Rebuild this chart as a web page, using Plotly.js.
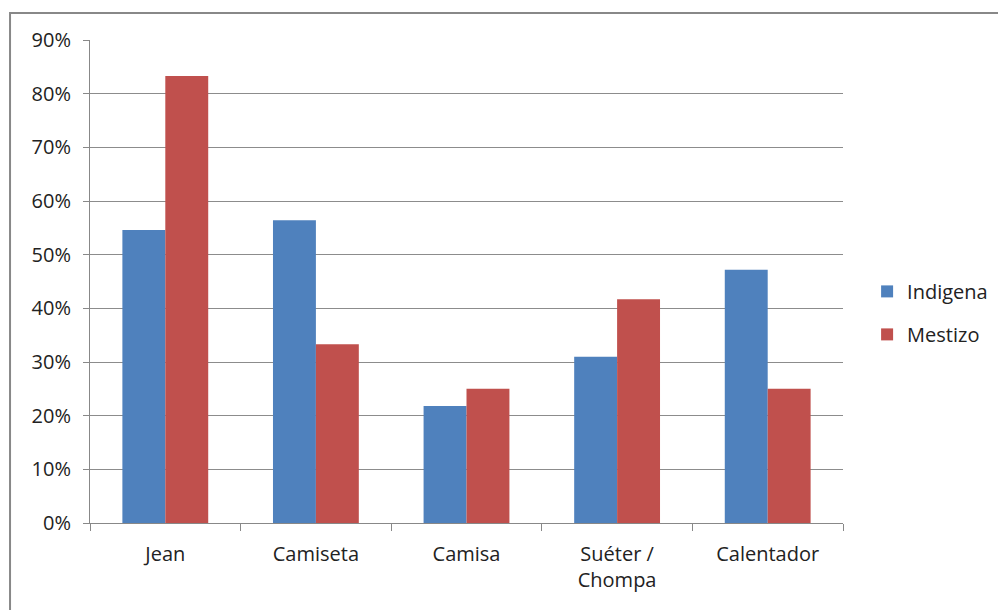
<!DOCTYPE html>
<html>
<head>
<meta charset="utf-8">
<script src="https://cdn.plot.ly/plotly-3.0.1.min.js"></script>
<style>html,body{margin:0;padding:0;background:#fff;}#chart{width:998px;height:610px;}</style>
</head>
<body>
<div id="chart"></div>
<script>
const categories = ["Jean", "Camiseta", "Camisa", "Suéter /<br>Chompa", "Calentador"];
const indigena = [0.546, 0.564, 0.218, 0.310, 0.472];
const mestizo = [0.833, 0.333, 0.250, 0.417, 0.250];
const seriesNames = ["Indigena", "Mestizo"];
const yTicks = [0, 0.1, 0.2, 0.3, 0.4, 0.5, 0.6, 0.7, 0.8, 0.9];
const yTickText = ["0%", "10%", "20%", "30%", "40%", "50%", "60%", "70%", "80%", "90%"];

const fam = "Open Sans, Liberation Sans, sans-serif";
const txt = "#222";

const data = [
  {type: "bar", name: seriesNames[0], legendgroup: "a", x: categories, y: indigena, marker: {color: "#4F81BD"}},
  {type: "bar", name: seriesNames[1], legendgroup: "b", x: categories, y: mestizo, marker: {color: "#C0504D"}}
];

const layout = {
  width: 998, height: 610,
  margin: {l: 90, r: 155, t: 40, b: 87, autoexpand: false},
  paper_bgcolor: "#fff", plot_bgcolor: "#fff",
  font: {family: fam, size: 20, color: txt},
  barmode: "group", bargap: 0.43, bargroupgap: 0,
  showlegend: true,
  legend: {x: 1.032, xanchor: "left", y: 0.435, yanchor: "middle",
           font: {family: fam, size: 20, color: txt}, tracegroupgap: 14, itemwidth: 30},
  xaxis: {
    type: "category", showgrid: false, showline: true, linecolor: "#888", linewidth: 1,
    ticks: "outside", tickson: "boundaries", ticklen: 7, tickcolor: "#888",
    ticklabelstandoff: 13,
    tickfont: {family: fam, size: 20, color: txt}, fixedrange: true
  },
  yaxis: {
    range: [0, 0.9], tickvals: yTicks, ticktext: yTickText,
    showgrid: true, gridcolor: "#8c8c8c", gridwidth: 1,
    showline: true, linecolor: "#888", linewidth: 1,
    ticks: "outside", ticklen: 6, tickcolor: "#888", zeroline: false,
    ticklabelstandoff: 8,
    tickfont: {family: fam, size: 20, color: txt}, fixedrange: true
  },
  shapes: [
    {type: "rect", xref: "paper", yref: "paper", x0: -0.1062, x1: 1.3, y0: -0.2, y1: 1.0559,
     line: {color: "#888", width: 2}, fillcolor: "rgba(0,0,0,0)", layer: "below"}
  ]
};

Plotly.newPlot("chart", data, layout, {displayModeBar: false, staticPlot: true});
</script>
</body>
</html>
